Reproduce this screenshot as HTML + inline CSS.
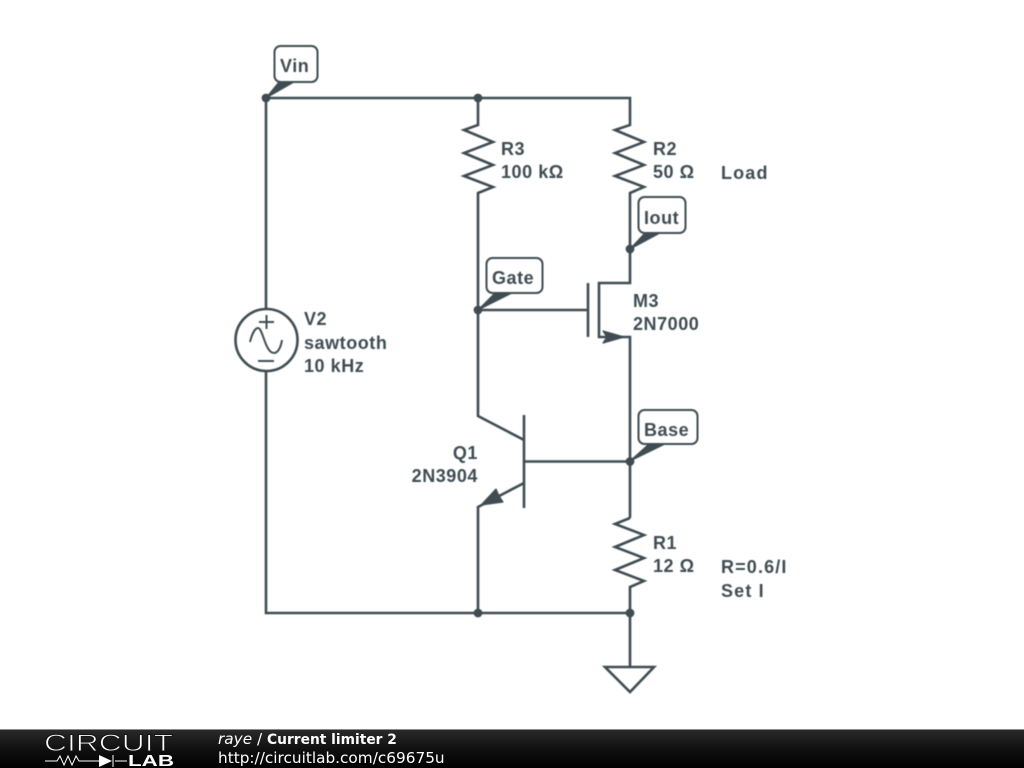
<!DOCTYPE html>
<html>
<head>
<meta charset="utf-8">
<style>
html,body{margin:0;padding:0;background:#fff;width:1024px;height:768px;overflow:hidden}
svg{display:block}
.t{font-family:"Liberation Sans",sans-serif;font-size:18px;font-weight:bold;fill:#3f4c52;letter-spacing:.55px}
.w{letter-spacing:1.15px}
.f{font-family:"DejaVu Sans",sans-serif;font-size:15.3px;fill:#fff}
</style>
</head>
<body>
<svg width="1024" height="768" viewBox="0 0 1024 768" xmlns="http://www.w3.org/2000/svg">
<defs>
<linearGradient id="bar" x1="0" y1="0" x2="0" y2="1">
<stop offset="0" stop-color="#2b2b2b"/>
<stop offset="0.5" stop-color="#111"/>
<stop offset="1" stop-color="#000"/>
</linearGradient>
</defs>
<g style="filter:blur(.4px)">
<g fill="none" stroke="#3f4c52" stroke-width="2.6" stroke-linejoin="miter">
<path d="M266,98H630V125L615,130L644,142L615,153L644,165L615,176L644,187L630,193V249V283H599V337H630V518"/>
<path d="M478,98V125L464,130L493,142L464,153L493,165L464,176L493,187L478,193V416L524,440"/>
<path d="M266,98V309M266,371V613H630"/>
<path d="M478,310H588M588,283V337"/>
<path d="M524,415V508M524,461.500H630"/>
<path d="M524,483L478,507V613"/>
<path d="M630,518L615,524L644,535L615,547L644,558L615,570L644,581L630,587V667"/>
<path d="M605,667H654L630,692Z"/>
<circle cx="266.500" cy="340" r="31"/>
<path d="M259,322H274M266.500,315V329M258,361H274" stroke-width="2"/>
<path d="M250,342C252,334 255,328 258,328C263,328 265,353 274,353C278,353 281,347 282,340" stroke-width="2"/>
</g>
<g fill="#3f4c52" stroke="#3f4c52" stroke-width="1.2" stroke-linejoin="round">
<path d="M603,331L624,337L603,343L607,337Z"/>
<path d="M481,505L496,489L499,496L503,502Z"/>
<circle cx="266" cy="98" r="3.800"/>
<circle cx="478" cy="98" r="3.800"/>
<circle cx="630" cy="249" r="3.800"/>
<circle cx="478" cy="310" r="3.800"/>
<circle cx="630" cy="461.500" r="3.800"/>
<circle cx="478" cy="613" r="3.800"/>
<circle cx="630" cy="613" r="3.800"/>
<path d="M266,98L279,82H294Z"/>
<path d="M630,249L645,233H660Z"/>
<path d="M478,310L495,293H512Z"/>
<path d="M630,461L649,444H665Z"/>
</g>
<g fill="#fff" stroke="#3f4c52" stroke-width="2">
<rect x="274.500" y="46" width="43" height="36" rx="6"/>
<rect x="638.500" y="197" width="47" height="36" rx="6"/>
<rect x="486.500" y="258" width="56" height="35" rx="6"/>
<rect x="638.500" y="410" width="59" height="34" rx="6"/>
</g>
<g>
<text class="t" x="280" y="72">Vin</text>
<text class="t" x="644" y="224">Iout</text>
<text class="t" x="492" y="284">Gate</text>
<text class="t" x="644" y="436">Base</text>
<text class="t" x="501" y="155">R3</text>
<text class="t" x="501" y="178">100 kΩ</text>
<text class="t" x="653" y="155">R2</text>
<text class="t" x="653" y="178">50 Ω</text>
<text class="t w" x="721" y="179">Load</text>
<text class="t" x="633" y="307">M3</text>
<text class="t" x="633" y="330">2N7000</text>
<text class="t" x="304" y="325">V2</text>
<text class="t" x="304" y="349">sawtooth</text>
<text class="t" x="304" y="372">10 kHz</text>
<text class="t" x="478" y="459" text-anchor="end">Q1</text>
<text class="t" x="478" y="482" text-anchor="end">2N3904</text>
<text class="t" x="653" y="549">R1</text>
<text class="t" x="653" y="572">12 Ω</text>
<text class="t w" x="721" y="573">R=0.6/I</text>
<text class="t w" x="721" y="597">Set I</text>
</g>
</g>
<rect x="0" y="729" width="1024" height="39" fill="url(#bar)"/>
<rect x="0" y="729" width="1024" height="1" fill="#8a8a8a"/>
<text x="44" y="751" font-family="Liberation Sans,sans-serif" font-size="24" fill="#fff" stroke="#141414" stroke-width="0.9" textLength="129" lengthAdjust="spacingAndGlyphs">CIRCUIT</text>
<path d="M45,761H57L60,756L64,765L68,756L72,765L76,756L79,761H99M115,761H127M113,755V767" fill="none" stroke="#fff" stroke-width="1"/>
<path d="M99,755L112,761L99,767Z" fill="#fff"/>
<text x="128" y="766" font-family="Liberation Sans,sans-serif" font-size="16" font-weight="bold" fill="#fff" textLength="46" lengthAdjust="spacingAndGlyphs">LAB</text>
<text class="f" x="218" y="744"><tspan font-style="italic">raye</tspan> / <tspan font-weight="bold" font-size="13.800">Current limiter 2</tspan></text>
<text class="f" x="218" y="763">http://circuitlab.com/c69675u</text>
</svg>
</body>
</html>
